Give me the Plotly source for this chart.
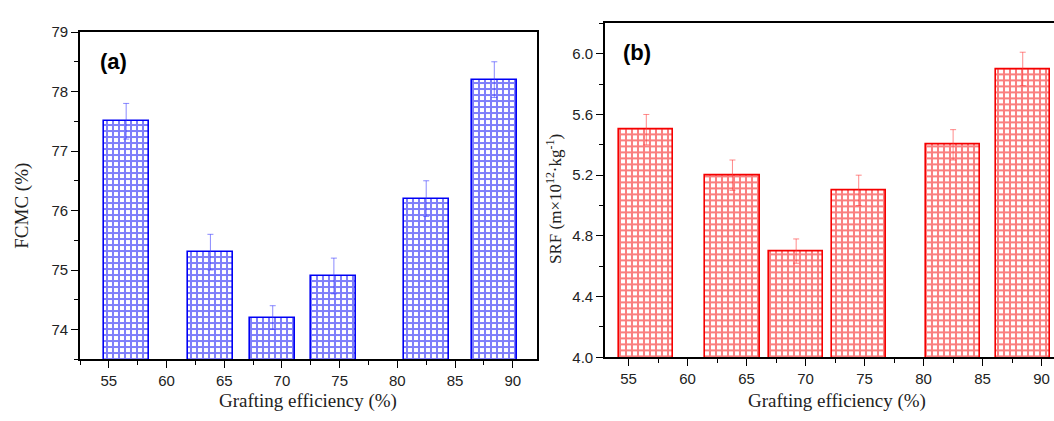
import plotly.graph_objects as go

# Data
grafting = [56.5, 63.8, 69.2, 74.5, 82.5, 88.4]
fcmc = [77.5, 75.3, 74.2, 74.9, 76.2, 78.2]
fcmc_err = [0.3, 0.3, 0.2, 0.3, 0.3, 0.3]
srf = [5.5, 5.2, 4.7, 5.1, 5.4, 5.9]
srf_err = [0.1, 0.1, 0.08, 0.1, 0.1, 0.11]
x_ticks = [55, 60, 65, 70, 75, 80, 85, 90]
fcmc_ticks = [74, 75, 76, 77, 78, 79]
srf_ticks = [4.0, 4.4, 4.8, 5.2, 5.6, 6.0]

W, H = 1054, 421


def px(x):
    return x / W


def py(y):
    return 1 - y / H


BLUE = "#0000f5"
RED = "#f50000"

fig = go.Figure()

fig.add_trace(go.Bar(
    x=grafting, y=fcmc, width=3.9, xaxis="x", yaxis="y",
    marker=dict(color="white", line=dict(color=BLUE, width=1.6),
                pattern=dict(shape="+", fgcolor=BLUE, bgcolor="white", size=6, solidity=0.56)),
    error_y=dict(type="data", array=fcmc_err, visible=True, color="rgba(60,60,255,0.6)",
                 thickness=1, width=3),
    showlegend=False,
))
fig.add_trace(go.Bar(
    x=grafting, y=srf, width=4.6, xaxis="x2", yaxis="y2",
    marker=dict(color="white", line=dict(color=RED, width=1.6),
                pattern=dict(shape="+", fgcolor=RED, bgcolor="white", size=6, solidity=0.56)),
    error_y=dict(type="data", array=srf_err, visible=True, color="rgba(255,60,60,0.6)",
                 thickness=1, width=3),
    showlegend=False,
))

tickfont = dict(family="Liberation Sans, Arial", size=15, color="#222")
axis_common = dict(showline=True, linecolor="black", linewidth=1.6, ticks="outside",
                   ticklen=7, tickwidth=1.4, tickcolor="black", showgrid=False,
                   zeroline=False, tickfont=tickfont)
minor_x = dict(dtick=2.5, tick0=52.5, ticks="outside", ticklen=4, tickwidth=1.2, tickcolor="black")

fig.update_layout(
    width=W, height=H,
    margin=dict(l=0, r=0, t=0, b=0),
    paper_bgcolor="white", plot_bgcolor="white",
    bargap=0,
    xaxis=dict(domain=[px(80), px(537)], range=[52.5, 92.1], tickvals=x_ticks,
               mirror=True, anchor="y", minor=minor_x, **axis_common),
    yaxis=dict(domain=[py(365), py(24)], range=[73.5, 79], tickvals=fcmc_ticks,
               mirror=True, anchor="x",
               minor=dict(dtick=0.5, tick0=73.5, ticks="outside", ticklen=4, tickwidth=1.2, tickcolor="black"),
               **axis_common),
    xaxis2=dict(domain=[px(605), 1.0], range=[53.0, 91.05], tickvals=x_ticks,
                mirror=True, anchor="y2", minor=minor_x, **axis_common),
    yaxis2=dict(domain=[py(363), py(15)], range=[4.0, 6.2], tickvals=srf_ticks,
                tickformat=".1f", mirror=False, anchor="x2",
                minor=dict(dtick=0.2, tick0=4.0, ticks="outside", ticklen=4, tickwidth=1.2, tickcolor="black"),
                **axis_common),
)

serif = dict(family="Liberation Serif, Times New Roman", size=19, color="#222")
serif_s = dict(family="Liberation Serif, Times New Roman", size=17, color="#222")
bold = dict(family="Liberation Sans, Arial", size=22, color="black")
ann = [
    dict(text="Grafting efficiency (%)", x=px(308), y=py(409), font=serif),
    dict(text="Grafting efficiency (%)", x=px(837), y=py(409), font=serif),
    dict(text="FCMC (%)", x=px(22), y=py(205), font=serif, textangle=-90),
    dict(text="SRF (m×10<sup>12</sup>·kg<sup>-1</sup>)", x=px(554), y=py(198), font=serif_s, textangle=-90),
    dict(text="<b>(a)</b>", x=px(113), y=py(55), font=bold),
    dict(text="<b>(b)</b>", x=px(637), y=py(45), font=bold),
]
for a in ann:
    fig.add_annotation(xref="paper", yref="paper", showarrow=False,
                       xanchor="center", yanchor="middle", **a)

fig.write_html("out.html", config={"displayModeBar": False},
               post_script="document.body.style.margin='0';document.body.style.overflow='hidden';")
